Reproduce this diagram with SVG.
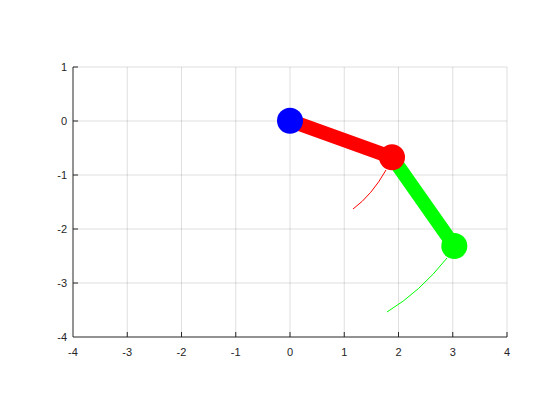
<svg xmlns="http://www.w3.org/2000/svg" width="560" height="420" viewBox="0 0 560 420">
<style>
.grid{stroke:#262626;stroke-opacity:0.15;stroke-width:1;fill:none}
.axis{stroke:#262626;stroke-width:1;fill:none}
.lbl{font-family:"Liberation Sans",Arial,sans-serif;font-size:11px;fill:#262626}
</style>
<rect width="560" height="420" fill="#ffffff"/>
<g id="grid">
<path class="grid" d="M127.25,67V337M181.5,67V337M235.75,67V337M290,67V337M344.25,67V337M398.5,67V337M452.75,67V337M507,67V337"/>
<path class="grid" d="M73,67H507M73,121H507M73,175H507M73,229H507M73,283H507"/>
</g>
<g id="axes">
<path class="axis" d="M73,67V337H507"/>
<path class="axis" d="M127.25,337v-5M181.5,337v-5M235.75,337v-5M290,337v-5M344.25,337v-5M398.5,337v-5M452.75,337v-5M507,337v-5"/>
<path class="axis" d="M73,67h5M73,121h5M73,175h5M73,229h5M73,283h5"/>
<g class="lbl" text-anchor="middle">
<text x="73" y="356">-4</text>
<text x="127.25" y="356">-3</text>
<text x="181.5" y="356">-2</text>
<text x="235.75" y="356">-1</text>
<text x="290" y="356">0</text>
<text x="344.25" y="356">1</text>
<text x="398.5" y="356">2</text>
<text x="452.75" y="356">3</text>
<text x="507" y="356">4</text>
</g>
<g class="lbl" text-anchor="end">
<text x="67" y="71">1</text>
<text x="67" y="125">0</text>
<text x="67" y="179">-1</text>
<text x="67" y="233">-2</text>
<text x="67" y="287">-3</text>
<text x="67" y="341">-4</text>
</g>
</g>
<g id="connectors">
<path d="M386,170 Q372,195 353,209" stroke="#ff0000" stroke-width="1" fill="none"/>
<path d="M447,258 Q420,292 387,312" stroke="#00ff00" stroke-width="1" fill="none"/>
<line x1="290" y1="120.7" x2="392" y2="157.3" stroke="#ff0000" stroke-width="14"/>
<line x1="392" y1="157.3" x2="454.3" y2="246" stroke="#00ff00" stroke-width="14"/>
</g>
<g id="base"><circle cx="290" cy="120.7" r="13" fill="#0000ff"/></g>
<g id="elbow"><circle cx="392" cy="157.3" r="13" fill="#ff0000"/></g>
<g id="tip"><circle cx="454.3" cy="246" r="13" fill="#00ff00"/></g>
</svg>
